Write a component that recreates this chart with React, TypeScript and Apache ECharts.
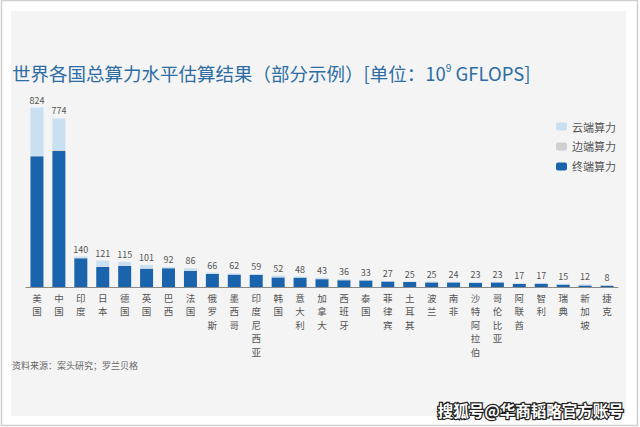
import React, { useEffect, useRef } from "react";
import * as echarts from "echarts";

const countries = ["美国","中国","印度","日本","德国","英国","巴西","法国","俄罗斯","墨西哥","印度尼西亚","韩国","意大利","加拿大","西班牙","泰国","菲律宾","土耳其","波兰","南非","沙特阿拉伯","哥伦比亚","阿联酋","智利","瑞典","新加坡","捷克"];
const terminal = [600,625,132,92,97,84,86,74,60,57,56,44,43,36,31,30,25,23,21,21,19,21,14,15,11,7,6];
const edge =     [4,4,2,2,2,2,1,2,1,1,1,1,1,1,1,1,1,1,1,1,1,1,1,1,1,1,1];
const cloud =    [220,145,6,27,16,15,5,10,5,4,2,7,4,6,4,2,1,1,3,2,3,1,2,1,3,4,1];

export default function App() {
  const ref = useRef<HTMLDivElement>(null);
  useEffect(() => {
    document.body.style.margin = "0";
    const chart = echarts.init(ref.current!, null, { renderer: "svg" });
    const font = "'Noto Sans CJK SC', 'Noto Sans', sans-serif";
    chart.setOption({
      animation: false,
      backgroundColor: "#ffffff",
      textStyle: { fontFamily: font },
      graphic: [
        { type: "rect", z: -10, shape: { x: 1.5, y: 0.5, width: 636, height: 425 }, style: { fill: "#ffffff", stroke: "#cfcfcf", lineWidth: 1.5 } },
        { type: "rect", z: -9, shape: { x: 11, y: 11, width: 615, height: 405 }, style: { fill: "#f4f4f4" } },
        {
          type: "text", left: 12, top: 63,
          style: {
            text: "世界各国总算力水平估算结果（部分示例）[单位：10{s|9} GFLOPS]",
            fill: "#2d6da3", font: "18.5px " + font,
            rich: { s: { fontSize: 10, verticalAlign: "top", padding: [0, 0, 9, 0], fill: "#2d6da3" } }
          }
        },
        { type: "text", left: 12, top: 361, style: { text: "资料来源：案头研究；罗兰贝格", fill: "#666", font: "9px " + font } },
        { type: "text", right: 15, top: 401, style: { text: "搜狐号@华商韬略官方账号", fill: "#ffffff", stroke: "#222", lineWidth: 2.5, font: "bold 15.5px " + font } }
      ],
      legend: {
        orient: "vertical", right: 19, top: 116, itemWidth: 11, itemHeight: 8, itemGap: 9,
        data: ["云端算力", "边端算力", "终端算力"],
        textStyle: { color: "#555", fontSize: 11, fontFamily: font }
      },
      grid: { left: 26, right: 22, top: 91, bottom: 427 - 287 },
      xAxis: {
        type: "category", data: countries,
        axisLine: { lineStyle: { color: "#8a8a8a", width: 1 } },
        axisTick: { show: false },
        axisLabel: {
          interval: 0, color: "#555", fontSize: 9.5, lineHeight: 13.5, margin: 4, verticalAlign: "top",
          formatter: (v: string) => v.split("").join("\n")
        }
      },
      yAxis: { type: "value", min: 0, max: 900, show: false, splitLine: { show: false } },
      series: [
        { name: "终端算力", type: "bar", stack: "a", data: terminal, barWidth: 13, itemStyle: { color: "#1a64ad" } },
        { name: "边端算力", type: "bar", stack: "a", data: edge, itemStyle: { color: "#cfcfcf" } },
        {
          name: "云端算力", type: "bar", stack: "a", data: cloud, itemStyle: { color: "#c8e0f1" },
          label: {
            show: true, position: "top", distance: 3, color: "#555", fontSize: 9,
            formatter: (p: any) => String(terminal[p.dataIndex] + edge[p.dataIndex] + cloud[p.dataIndex])
          }
        }
      ]
    });
    return () => chart.dispose();
  }, []);
  return <div ref={ref} style={{ position: "absolute", left: 0, top: 0, width: 640, height: 427 }} />;
}
